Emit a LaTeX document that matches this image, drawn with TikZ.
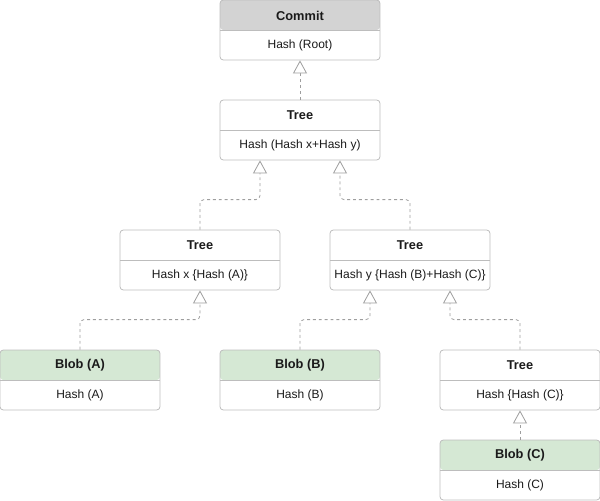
\documentclass[tikz,border=0pt]{standalone}
\usepackage{fontspec}
\setmainfont{Liberation Sans}
\usetikzlibrary{arrows.meta}
\definecolor{bordercol}{HTML}{BDBDBD}
\definecolor{graycol}{HTML}{D3D3D3}
\definecolor{greencol}{HTML}{D5E8D4}
\definecolor{linecol}{HTML}{9E9E9E}
\definecolor{txtcol}{HTML}{1A1A1A}
\tikzset{
  umlbox/.style={draw=bordercol, line width=0.6pt, rounded corners=2.5pt,
    minimum width=120pt, minimum height=45pt, inner sep=0pt,
    path picture={
      \fill[#1] (path picture bounding box.north west) rectangle ([yshift=-22.5pt]path picture bounding box.north east);
      \draw[bordercol, line width=0.6pt] ([yshift=-22.5pt]path picture bounding box.north west) -- ([yshift=-22.5pt]path picture bounding box.north east);
    }},
  umlbox/.default=white,
  titletext/.style={font=\fontsize{9.6}{11}\selectfont\bfseries, text=txtcol, inner sep=0pt},
  bodytext/.style={font=\fontsize{9}{10}\selectfont, text=txtcol, inner sep=0pt},
  conn/.style={draw=linecol, line width=0.6pt, dash pattern=on 2.2pt off 2.2pt, rounded corners=3pt,
    -{Triangle[open, width=10.5pt, length=9.75pt, fill=white]}},
}
\newcommand{\mybox}[6]{%
  \node[umlbox=#4] (#1) at (#2,#3) {};
  \node[titletext] (#1-t) at ([yshift=-12pt]#1.north) {#5};
  \node[bodytext] (#1-b) at ([yshift=-34.5pt]#1.north) {#6};
}
\begin{document}
\begin{tikzpicture}[x=0.75pt,y=-0.75pt]
\useasboundingbox (0,0) rectangle (600,500);
\mybox{commit}{300}{30}{graycol}{Commit}{Hash (Root)}
\mybox{root}{300}{130}{white}{Tree}{Hash (Hash x+Hash y)}
\mybox{tl}{200}{260}{white}{Tree}{Hash x \{Hash (A)\}}
\mybox{tr}{410}{260}{white}{Tree}{Hash y \{Hash (B)+Hash (C)\}}
\mybox{ba}{80}{380}{greencol}{Blob (A)}{Hash (A)}
\mybox{bb}{300}{380}{greencol}{Blob (B)}{Hash (B)}
\mybox{tc}{520}{380}{white}{Tree}{Hash \{Hash (C)\}}
\mybox{bc}{520}{470}{greencol}{Blob (C)}{Hash (C)}
\draw[conn] (root.north) -- (commit.south);
\draw[conn] (tl.north) -- ++(0,-30) -| ([xshift=-30pt]root.south);
\draw[conn] (tr.north) -- ++(0,-30) -| ([xshift=30pt]root.south);
\draw[conn] (ba.north) -- ++(0,-30) -| (tl.south);
\draw[conn] (bb.north) -- ++(0,-30) -| ([xshift=-30pt]tr.south);
\draw[conn] (tc.north) -- ++(0,-30) -| ([xshift=30pt]tr.south);
\draw[conn] (bc.north) -- (tc.south);
\end{tikzpicture}
\end{document}
